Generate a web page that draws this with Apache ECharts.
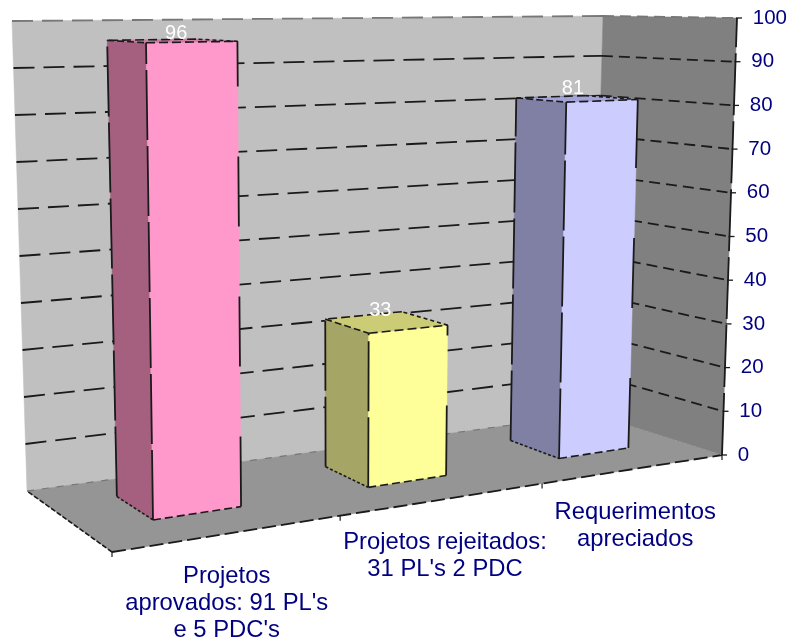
<!DOCTYPE html>
<html><head><meta charset="utf-8">
<style>html,body{margin:0;padding:0;background:#fff}#c{width:790px;height:642px}</style>
<script src="https://cdn.jsdelivr.net/npm/echarts@6/dist/echarts.min.js"></script>
</head><body><div id="c"></div>
<script>
const categories = ["Projetos\naprovados: 91 PL's\ne 5 PDC's", "Projetos rejeitados:\n31 PL's 2 PDC", "Requerimentos\napreciados"];
const barValues = [96, 33, 81];
const valueTicks = [0,10,20,30,40,50,60,70,80,90,100];
const frontColors = ['#FF99CC','#FFFF99','#CCCCFF'];
const sideColors = ['#A56080','#A5A566','#8080A5'];
const topColors = ['#CF7DA6','#CCCC77','#A3A3D6'];

// 3D box calibration: floor corners and the vertical vector (per full axis) at each corner
const W = 790, H = 642, gridL = 112, gridR = 722, gridT = 18, gridB = 455;
const FLOOR = {fl:[112,552], fr:[722,455], bl:[27,491], br:[592,414]};
const VERT  = {fl:[-7.5,-527], fr:[15,-437], bl:[-15,-470], br:[11,-398]};
const PERSP = 0.195, D_FRONT = 0.35, D_BACK = 0.75, BAR_BAND = 0.4, BAR_SHIFT = 1.015;
const LABEL_NUDGE = [[4,2],[-6,-3],[-4,-1]], CAT_NUDGE = [-2,3.5,4.5];
const ink = '#1a1a1a', axisBlue = '#000080';

const persp = u => (1+PERSP)*u/(1+PERSP*u);
const mix = (c,t,d,k) => (1-t)*(1-d)*c.fl[k] + t*(1-d)*c.fr[k] + (1-t)*d*c.bl[k] + t*d*c.br[k];
function project(u,d,f){ // u across (0..1), d depth (0 front..1 back), f = fraction of the value axis
  const t = persp(u);
  return [mix(FLOOR,t,d,0)+f*mix(VERT,t,d,0), mix(FLOOR,t,d,1)+f*mix(VERT,t,d,1)];
}
const frac = (api,v) => (gridB-api.coord([0,v])[1])/(gridB-gridT);
const uOf = (api,i) => (api.coord([i,0])[0]-gridL)/(gridR-gridL);
const poly = (points,fill,z2) => ({type:'polygon',shape:{points},style:{fill,stroke:fill,lineWidth:.5},z2:z2||0});
const seg = (a,b,lw,dash,stroke,z2) => ({type:'line',shape:{x1:a[0],y1:a[1],x2:b[0],y2:b[1]},
  style:{stroke:stroke||ink,lineWidth:lw,lineDash:dash||null},z2:z2||1});

function renderBox(params,api){
  const f1 = frac(api,100), P=project, c=[];
  c.push(poly([P(0,1,0),P(1,1,0),P(1,1,f1),P(0,1,f1)],'#C0C0C0'));
  c.push(poly([P(1,1,0),P(1,0,0),P(1,0,f1),P(1,1,f1)],'#808080'));
  c.push(poly([P(0,0,0),P(1,0,0),P(1,1,0),P(0,1,0)],'#959595'));
  c.push(seg(P(0,0,0),P(1,0,0),1.8,[14,5]));
  c.push(seg(P(0,0,0),P(0,1,0),1.6,[5,2]));
  c.push(seg(P(1,0,0),P(1,1,0),1,[2,3],'#8a8a8a'));
  c.push(seg(P(1,0,0),P(1,0,f1),1.8,[62,6]));
  for(let i=0;i<=categories.length;i++){
    const a=P(i/categories.length,0,0);
    c.push(seg(a,[a[0],a[1]+5],1.2));
  }
  return {type:'group',children:c};
}
function renderGrid(params,api){
  const v=api.value(1), f=frac(api,v), c=[], P=project;
  const col = v===100 ? '#777' : ink;
  if(v>0){
    c.push(seg(P(0,1,f),P(1,1,f),1.8,[21,9],col));
    c.push(seg(P(1,1,f),P(1,0,f),1.8,[11,6],col));
  } else {
    c.push(seg(P(0,1,f),P(1,1,f),1.2,[7,8],'#777'));
  }
  const a=P(1,0,f);
  c.push(seg([a[0]-1,a[1]],[a[0]+5,a[1]],1.3));
  return {type:'group',children:c};
}
function renderBar(params,api){
  const i=api.value(0), v=api.value(1), f=frac(api,v);
  const cu=uOf(api,i)*BAR_SHIFT, hw=BAR_BAND*api.size([1,0])[0]/(gridR-gridL)/2;
  const u0=cu-hw,u1=cu+hw,d0=D_FRONT,d1=D_BACK,P=project,c=[];
  const fl0=P(u0,d0,0),fr0=P(u1,d0,0),bl0=P(u0,d1,0);
  const fl1=P(u0,d0,f),fr1=P(u1,d0,f),bl1=P(u0,d1,f),br1=P(u1,d1,f);
  c.push(poly([bl0,fl0,fl1,bl1],sideColors[i]));
  c.push(poly([fl0,fr0,fr1,fl1],frontColors[i]));
  c.push(poly([bl1,fl1,fr1,br1],topColors[i]));
  c.push(seg(bl0,bl1,1.8,[70,6]));
  c.push(seg(fl0,fl1,1.8,[70,6]));
  c.push(seg(fr0,fr1,1.8,[70,70]));
  c.push(seg(bl0,fl0,1.6,[3,2]));
  c.push(seg(fl0,fr0,1.6,[8,4]));
  c.push(seg(bl1,fl1,1.6,[7,3]));
  c.push(seg(fl1,fr1,1.6,[9,4]));
  c.push(seg(fr1,br1,1.6,[4,3]));
  c.push(seg(br1,bl1,1.6,[9,4]));
  const top=P(cu,(d0+d1)/2,f);
  c.push({type:'text',z2:5,style:{text:String(v),x:top[0]+LABEL_NUDGE[i][0],y:top[1]+1+LABEL_NUDGE[i][1],fill:'#fff',
    fontFamily:'"Liberation Sans",Arial,sans-serif',fontSize:20,align:'center',verticalAlign:'bottom'}});
  return {type:'group',children:c};
}
function renderCat(params,api){
  const i=api.value(0), p=project(uOf(api,i),0,0);
  return {type:'text',style:{text:categories[i],x:p[0]+CAT_NUDGE[i],y:p[1]+29,fill:axisBlue,
    fontFamily:'"Liberation Sans",Arial,sans-serif',fontSize:23.8,lineHeight:27,align:'center',verticalAlign:'top'}};
}
const rich={};
valueTicks.forEach(v=>{rich['t'+v]={color:axisBlue,fontSize:20.5,fontFamily:'"Liberation Sans",Arial,sans-serif',padding:[0,0,0,v*0.15]};});

const chart = echarts.init(document.getElementById('c'),null,{width:W,height:H});
const barData = barValues.map((v,i)=>[i,v]);
chart.setOption({
  animation:false, backgroundColor:'#fff',
  grid:{left:gridL,right:W-gridR,top:gridT,bottom:H-gridB,containLabel:false},
  xAxis:{type:'category',data:categories,show:false},
  yAxis:{type:'value',position:'right',min:0,max:100,interval:10,
    axisLine:{show:false},axisTick:{show:false},splitLine:{show:false},
    axisLabel:{margin:21,align:'left',formatter:v=>`{t${v}|${v}}`,rich}},
  series:[
    {type:'custom',name:'box',data:[[0,0]],renderItem:renderBox,z:1,silent:true,clip:false},
    {type:'custom',name:'grid',data:valueTicks.map(v=>[0,v]),renderItem:renderGrid,z:2,silent:true,clip:false},
    {type:'custom',name:'values',data:barData,renderItem:renderBar,z:3,silent:true,clip:false},
    {type:'custom',name:'cats',data:barData,renderItem:renderCat,z:4,silent:true,clip:false}
  ]
});
</script></body></html>
